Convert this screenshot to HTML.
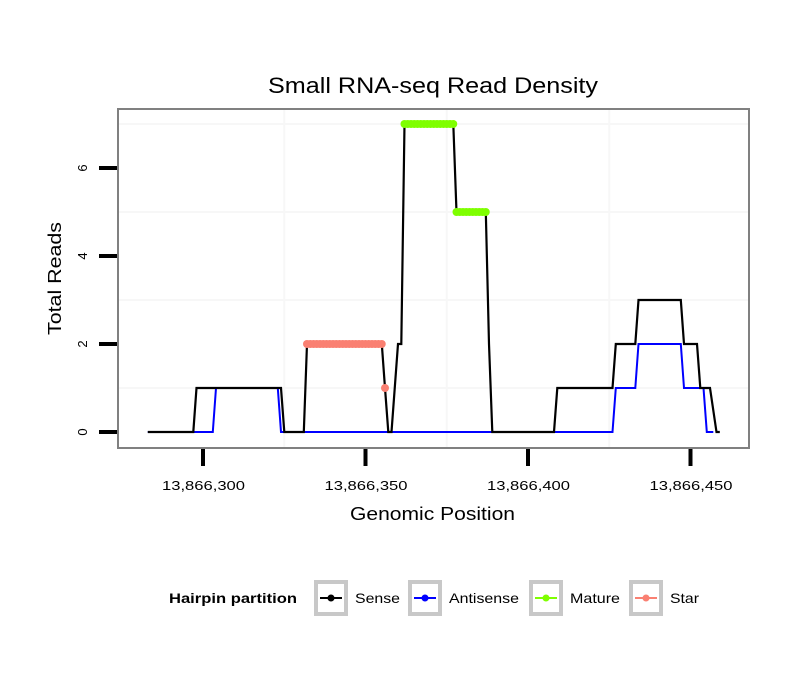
<!DOCTYPE html>
<html><head><meta charset="utf-8"><style>
body{margin:0;background:#fff}
svg{display:block;font-family:"Liberation Sans",sans-serif}
</style></head><body>
<svg id="chart" width="810" height="690">
<text x="268" y="93" font-size="22" textLength="330" lengthAdjust="spacingAndGlyphs">Small RNA-seq Read Density</text>
<g id="grid"></g>
<g id="series"></g>
<rect x="118" y="109" width="631" height="339" fill="none" stroke="#808080" stroke-width="2"/>
<g id="axes"></g>
<text x="350" y="520" font-size="18" textLength="165" lengthAdjust="spacingAndGlyphs">Genomic Position</text>
<text transform="translate(61,335) rotate(-90)" font-size="18" textLength="113" lengthAdjust="spacingAndGlyphs">Total Reads</text>
<g id="legend">
<text x="169" y="603" font-size="14" font-weight="bold" textLength="128" lengthAdjust="spacingAndGlyphs">Hairpin partition</text>
</g>
</svg>
<script>
const senseX=[283,297,298,324,325,331,332,355,356,357,358,360,361,362,377,378,387,388,389,408,409,426,427,433,434,447,448,452,453,456,458,459];
const senseY=[0,0,1,1,0,0,2,2,1,0,0,2,2,7,7,5,5,2,0,0,1,1,2,2,3,3,2,2,1,1,0,0];
const antiX=[283,303,304,323,324,426,427,433,434,447,448,454,455,457];
const antiY=[0,0,1,1,0,0,1,1,2,2,1,1,0,0];
const matureX=[362,363,364,365,366,367,368,369,370,371,372,373,374,375,376,377,378,379,380,381,382,383,384,385,386,387];
const matureY=[7,7,7,7,7,7,7,7,7,7,7,7,7,7,7,7,5,5,5,5,5,5,5,5,5,5];
const starX=[332,333,334,335,336,337,338,339,340,341,342,343,344,345,346,347,348,349,350,351,352,353,354,355,356];
const starY=[2,2,2,2,2,2,2,2,2,2,2,2,2,2,2,2,2,2,2,2,2,2,2,2,1];
const xTicks=[13866300,13866350,13866400,13866450];
const xTickLabels=["13,866,300","13,866,350","13,866,400","13,866,450"];
const yTicks=[0,2,4,6];
const base=13866000;
const sx=p=>203+3.25*((p>base?p-base:p)-300);
const sy=v=>432-44*v;
const NS="http://www.w3.org/2000/svg";
function mk(parent,tag,attrs){const e=document.createElementNS(NS,tag);for(const k in attrs)e.setAttribute(k,attrs[k]);parent.appendChild(e);return e;}
const grid=document.getElementById('grid'),series=document.getElementById('series'),axes=document.getElementById('axes'),legend=document.getElementById('legend');
[1,3,5,7].forEach(v=>{const l=mk(grid,'line',{x1:118,x2:749,y1:sy(v),y2:sy(v),stroke:'#f7f7f7','stroke-width':2});

});
[325,375,425].forEach(p=>{const l=mk(grid,'line',{x1:sx(p),x2:sx(p),y1:109,y2:448,stroke:'#f7f7f7','stroke-width':2});

});
function path(xs,ys){return xs.map((x,i)=>(i?'L':'M')+sx(x).toFixed(1)+','+sy(ys[i]).toFixed(1)).join('');}
const pa=mk(series,'path',{d:path(antiX,antiY),fill:'none',stroke:'#0000ff','stroke-width':2});


const ps=mk(series,'path',{d:path(senseX,senseY),fill:'none',stroke:'#000','stroke-width':2.2});


matureX.forEach((x,i)=>{const c=mk(series,'circle',{cx:sx(x),cy:sy(matureY[i]),r:4,fill:'#7fff00'});

});
starX.forEach((x,i)=>{const c=mk(series,'circle',{cx:sx(x),cy:sy(starY[i]),r:4,fill:'#fa8072'});

});
yTicks.forEach(v=>{const t=mk(axes,'line',{x1:99,x2:117,y1:sy(v),y2:sy(v),stroke:'#000','stroke-width':4});


const l=mk(axes,'text',{transform:`translate(87,${sy(v)}) rotate(-90)`,'font-size':13,'text-anchor':'middle'});l.textContent=v;

});
xTicks.forEach((p,i)=>{const t=mk(axes,'line',{x1:sx(p),x2:sx(p),y1:449,y2:466,stroke:'#000','stroke-width':4});


const l=mk(axes,'text',{x:sx(p)-41,y:490,'font-size':13,textLength:83,lengthAdjust:'spacingAndGlyphs'});l.textContent=xTickLabels[i];

});
const legNames=["Sense","Antisense","Mature","Star"],legCols=["#000","#0000ff","#7fff00","#fa8072"],legX=[314,408,529,629],legW=[45,70,50,29];
legNames.forEach((n,i)=>{const g=mk(legend,'g',{});


const x=legX[i];
mk(g,'rect',{x:x+2,y:582,width:30,height:32,fill:'#fff',stroke:'#c8c8c8','stroke-width':4});
mk(g,'line',{x1:x+6,x2:x+28,y1:598,y2:598,stroke:legCols[i],'stroke-width':2});
mk(g,'circle',{cx:x+17,cy:598,r:3.5,fill:legCols[i]});
const t=mk(g,'text',{x:x+41,y:603,'font-size':14,textLength:legW[i],lengthAdjust:'spacingAndGlyphs'});t.textContent=n;});
</script>
</body></html>
